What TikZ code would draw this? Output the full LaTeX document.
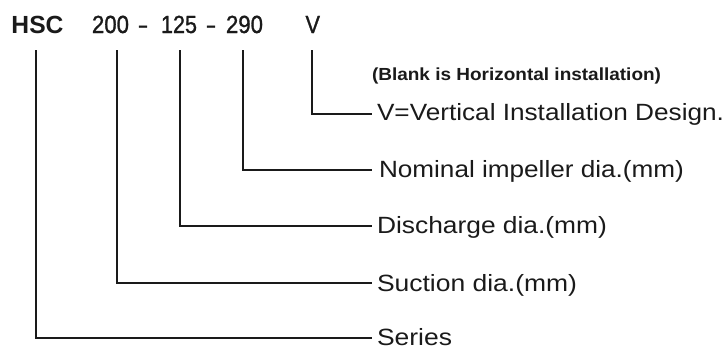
\documentclass[tikz,border=0pt]{standalone}
\usepackage{fontspec}
\setmainfont{Liberation Sans}
\newfontfamily\numfont[FakeBold=1.2]{Liberation Sans}
\usepackage{graphicx}
\newcommand\fitw[2]{\resizebox{#1pt}{\height}{#2}}
\definecolor{ink}{HTML}{1A1A1A}
\begin{document}
\begin{tikzpicture}[x=1pt,y=-1pt,
  txt/.style={anchor=base west, inner sep=0pt, outer sep=0pt, text=ink},
  lbl/.style={txt, font=\fontsize{23.5}{28}\selectfont},
  code/.style={txt, font=\numfont\fontsize{24.8}{30}\selectfont},
  note/.style={txt, font=\fontsize{17.5}{21}\selectfont\bfseries},
  vthin/.style={draw=ink, line width=1.3pt},
  vthick/.style={draw=ink, line width=1.9pt},
  hline/.style={draw=ink, line width=1.9pt, line cap=rect}]
\useasboundingbox (0,0) rectangle (725,349);
% top code
\node[txt, font=\fontsize{24.8}{30}\selectfont\bfseries] (hsc) at (11.5,33) {\fitw{52}{HSC}};
\node[code] (n200) at (92,33) {\fitw{37}{200}};
\node[code] (d1) at (139,33) {\fitw{8}{–}};
\node[code] (n125) at (161,33) {\fitw{36}{125}};
\node[code] (d2) at (207,33) {\fitw{8}{–}};
\node[code] (n290) at (226,33) {\fitw{37}{290}};
\node[code] (nV) at (305.5,33) {\fitw{14.5}{V}};
% labels
\node[note] (lBlank) at (372,80) {\fitw{289}{(Blank is Horizontal installation)}};
\node[lbl] (lV) at (377,120) {\fitw{347}{V=Vertical Installation Design.}};
\node[lbl] (lNom) at (379,177) {\fitw{305}{Nominal impeller dia.(mm)}};
\node[lbl] (lDis) at (377,233) {\fitw{230}{Discharge dia.(mm)}};
\node[lbl] (lSuc) at (377,291) {\fitw{200}{Suction dia.(mm)}};
\node[lbl] (lSer) at (377,345) {\fitw{75}{Series}};
% connector points
\coordinate (tHSC) at (36,50);  \coordinate (cHSC) at (36,338);  \coordinate (eHSC) at (371,338);
\coordinate (t200) at (117,50); \coordinate (c200) at (117,283); \coordinate (e200) at (371,283);
\coordinate (t125) at (180,50); \coordinate (c125) at (180,226); \coordinate (e125) at (371,226);
\coordinate (t290) at (243,50); \coordinate (c290) at (243,170); \coordinate (e290) at (371,170);
\coordinate (tV) at (312,50);   \coordinate (cV) at (312,114);   \coordinate (eV) at (371,114);
% connectors
\draw[vthin] (tHSC) -- (cHSC); \draw[hline] (cHSC) -- (eHSC);
\draw[vthin] (t200) -- (c200); \draw[hline] (c200) -- (e200);
\draw[vthick] (t125) -- (c125); \draw[hline] (c125) -- (e125);
\draw[vthick] (t290) -- (c290); \draw[hline] (c290) -- (e290);
\draw[vthin] (tV) -- (cV); \draw[draw=ink, line width=1.3pt, line cap=rect] (cV) -- (eV);
\end{tikzpicture}
\end{document}
